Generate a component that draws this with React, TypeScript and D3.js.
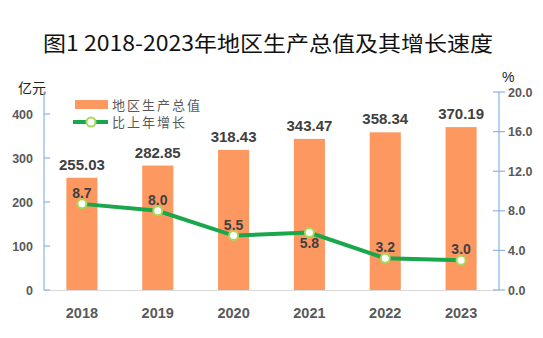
import React from "react";
import * as d3 from "d3";

const years = ["2018", "2019", "2020", "2021", "2022", "2023"];
const gdp = [255.03, 282.85, 318.43, 343.47, 358.34, 370.19];
const growth = [8.7, 8.0, 5.5, 5.8, 3.2, 3.0];
const growthLabelPos = ["above", "above", "above", "below", "above", "above"];
const leftTicks = [0, 100, 200, 300, 400];
const rightTicks = [0, 4, 8, 12, 16, 20];

const W = 543, H = 338;
const L = 44, R = 499, T = 92, B = 290;

export default function App() {
  const x = d3.scaleBand<string>().domain(years).range([L, R]).paddingInner(0.59).paddingOuter(0.295);
  const yL = d3.scaleLinear().domain([0, 450]).range([B, T]);
  const yR = d3.scaleLinear().domain([0, 20]).range([B, T]);
  const cx = (y: string) => (x(y) as number) + x.bandwidth() / 2;
  const line = d3.line<number>().x((_, i) => cx(years[i])).y(d => yR(d));
  const font = "'Noto Sans CJK SC',sans-serif";
  const lab = "Arial, 'Liberation Sans', sans-serif";
  const orange = "#fd9860";
  const green = "#1aa64b";

  return (
    <svg width={W} height={H} style={{ position: "absolute", left: 0, top: 0, background: "#fff" }}>
      <text x={43} y={51} textLength={450} lengthAdjust="spacingAndGlyphs" fontFamily="'Noto Sans CJK SC', sans-serif" fontSize={21} fontWeight={400} fill="#111">
        图1 2018-2023年地区生产总值及其增长速度
      </text>
      <text x={18} y={93} fontFamily={font} fontSize={14} fill="#222">亿元</text>
      <text x={502} y={82} fontFamily={lab} fontSize={14} fill="#222">%</text>

      {/* bottom axis */}
      <line x1={L} x2={R} y1={B + 0.5} y2={B + 0.5} stroke="#d9d9d9" strokeWidth={1} />
      {/* left axis */}
      <line x1={L} x2={L} y1={T} y2={B} stroke="#8eb4e3" strokeWidth={1.2} />
      {leftTicks.map(t => (
        <g key={t}>
          <line x1={L} x2={L + 6} y1={yL(t)} y2={yL(t)} stroke="#8eb4e3" strokeWidth={1.2} />
          <text x={33} y={yL(t) + 4.5} textAnchor="end" fontFamily={lab} fontWeight="bold" fontSize={12.5} fill="#595959">{t}</text>
        </g>
      ))}
      {/* right axis */}
      <line x1={R} x2={R} y1={T} y2={B} stroke="#8eb4e3" strokeWidth={1.2} />
      {rightTicks.map(t => (
        <g key={t}>
          <line x1={R - 6} x2={R + 6} y1={yR(t)} y2={yR(t)} stroke="#8eb4e3" strokeWidth={1.2} />
          <text x={508} y={yR(t) + 4.5} fontFamily={lab} fontWeight="bold" fontSize={12.5} fill="#595959">{t.toFixed(1)}</text>
        </g>
      ))}

      {/* bars */}
      {gdp.map((v, i) => (
        <g key={i}>
          <rect x={x(years[i])} y={yL(v)} width={x.bandwidth()} height={B - yL(v)} fill={orange} />
          <text x={cx(years[i])} y={yL(v) - 8} textAnchor="middle" fontFamily={lab} fontWeight="bold" fontSize={15} fill="#404040">{v.toFixed(2)}</text>
          <text x={cx(years[i])} y={318} textAnchor="middle" fontFamily={lab} fontWeight="bold" fontSize={14.5} fill="#595959">{years[i]}</text>
        </g>
      ))}

      {/* line */}
      <path d={line(growth) || ""} fill="none" stroke={green} strokeWidth={4} />
      {growth.map((v, i) => (
        <g key={i}>
          <circle cx={cx(years[i])} cy={yR(v)} r={4.5} fill="#fff" stroke="#a6d95b" strokeWidth={2} />
          <text x={cx(years[i])} y={growthLabelPos[i] === "above" ? yR(v) - 6 : yR(v) + 15} textAnchor="middle" fontFamily={lab} fontWeight="bold" fontSize={14} fill="#404040">{v.toFixed(1)}</text>
        </g>
      ))}

      {/* legend */}
      <rect x={75} y={100} width={33} height={9} fill={orange} />
      <text x={112} y={109.5} fontFamily={font} fontSize={13} letterSpacing={2} fill="#595959">地区生产总值</text>
      <line x1={73} x2={108} y1={122} y2={122} stroke={green} strokeWidth={4} />
      <circle cx={91} cy={122} r={4.5} fill="#fff" stroke="#a6d95b" strokeWidth={2} />
      <text x={112} y={127} fontFamily={font} fontSize={13} letterSpacing={2} fill="#595959">比上年增长</text>
    </svg>
  );
}
